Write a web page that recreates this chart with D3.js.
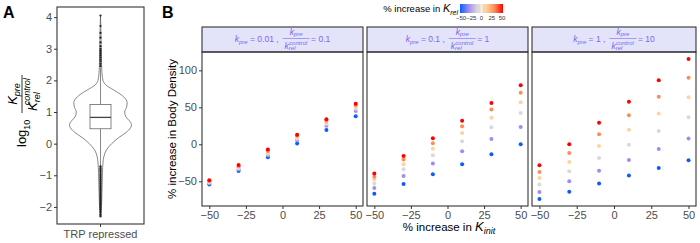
<!DOCTYPE html>
<html lang="en">
<head>
<meta charset="UTF-8">
<title>K_rel / K_init body density</title>
<script src="https://cdn.jsdelivr.net/npm/d3@7"></script>
<style>
    body { margin: 0; background: #fff; }
    * { font-family: 'Liberation Sans', Arial, sans-serif; }
</style>
</head>
<body>
<script>
    // ---- panel A data (log10 Kpre / Krel control) ----
    const violinY = [4.05, 3.5, 3.0, 2.5, 2.2, 2.0, 1.85, 1.7, 1.55, 1.4, 1.3, 1.15, 1.0, 0.85, 0.7, 0.6, 0.5, 0.35, 0.2, 0.0, -0.2, -0.4, -0.6, -0.9, -1.2, -1.6, -2.0, -2.3];
    const violinW = [0, 0.015, 0.025, 0.035, 0.05, 0.08, 0.18, 0.42, 0.66, 0.82, 0.86, 0.84, 0.78, 0.82, 0.95, 1.0, 0.97, 0.82, 0.6, 0.36, 0.19, 0.11, 0.08, 0.065, 0.055, 0.045, 0.03, 0];
    const boxStats = {q1: 0.47, median: 0.83, q3: 1.24, lo: -0.69, hi: 2.4};
    const outliers = [2.45, 2.52, 2.6, 2.66, 2.72, 2.78, 2.84, 2.9, 2.95, 3.0, 3.08, 3.2, 3.35, 3.5, 3.72, 4.05,
        -0.72, -0.78, -0.84, -0.9, -0.96, -1.02, -1.08, -1.14, -1.2, -1.26, -1.32, -1.38, -1.44, -1.5,
        -1.56, -1.62, -1.68, -1.74, -1.8, -1.86, -1.92, -2.0, -2.08, -2.16, -2.25, -2.3];
    const yTicksA = [-2, -1, 0, 1, 2, 3, 4];

    // ---- panel B data ----
    const kInit = [-50, -30, -10, 10, 30, 50];
    const kRel = [-50, -30, -10, 10, 30, 50];
    const relColors = ["#0a5cff", "#9d8df0", "#d9d9d9", "#fdd49e", "#fc8d59", "#ff0000"];
    const facetKpre = ["0.01", "0.1", "1"];
    const facetRatio = ["0.1", "1", "10"];
    // rows: one per kRel (-50 .. 50), columns: one per kInit
    const density1 = [
        [-54.5, -36, -17.5, 1, 19.5, 38],
        [-52.5, -34, -15, 5.5, 25, 45],
        [-51.5, -32.5, -13, 7.5, 27.5, 48],
        [-50.5, -31, -11, 9.5, 30, 50.5],
        [-49.5, -29.5, -9, 11.5, 32, 53],
        [-48.5, -28, -7, 13, 34, 55]
    ];
    const density2 = [
        [-67, -53.6, -40.5, -27, -13.5, 0],
        [-59, -42.8, -26, -9.5, 7.2, 23.4],
        [-53, -33.8, -14.9, 4, 23, 42.3],
        [-47.7, -27, -5.9, 15.3, 36, 57],
        [-43.7, -20.7, 1.4, 24.3, 46.9, 69.8],
        [-39.6, -15.8, 8.1, 32, 55.8, 80]
    ];
    const density3 = [
        [-73.9, -64, -53, -42.3, -32, -21.6],
        [-64.4, -50, -35.6, -21.2, -6.3, 7.7],
        [-54.5, -36.5, -18.5, -0.5, 18, 36.5],
        [-45.5, -23.9, -2.3, 19.8, 41.5, 63.5],
        [-37.4, -11.7, 13.5, 39.2, 64.4, 90],
        [-28.4, 0, 29.3, 57.7, 86.5, 115.3]
    ];
    const densities = [density1, density2, density3];
    const xTicksB = [-50, -25, 0, 25, 50];
    const yTicksB = [-50, 0, 50, 100];
    const legendTicks = [-50, -25, 0, 25, 50];

    const W = 700, H = 243;
    const tickCol = "#4d4d4d", borderCol = "#333";
    const svg = d3.select("body").append("svg").attr("width", W).attr("height", H);

    // ================= Panel A =================
    const boxA = {x0: 57, x1: 144, y0: 7, y1: 224};
    const yA = d3.scaleLinear().domain([-2.54, 4.32]).range([boxA.y1, boxA.y0]);
    const cxA = (boxA.x0 + boxA.x1) / 2;
    const wA = d3.scaleLinear().domain([0, 1]).range([0, 31]);

    const vio = violinY.map((v, i) => [v, violinW[i]]);
    svg.append("path")
        .datum(vio)
        .attr("d", d3.area()
            .curve(d3.curveMonotoneY)
            .y(d => yA(d[0]))
            .x0(d => cxA - wA(d[1]))
            .x1(d => cxA + wA(d[1])))
        .attr("fill", "#fff").attr("stroke", "#555").attr("stroke-width", 0.7);

    // whiskers + box
    svg.append("line").attr("x1", cxA).attr("x2", cxA)
        .attr("y1", yA(boxStats.hi)).attr("y2", yA(boxStats.lo))
        .attr("stroke", "#555").attr("stroke-width", 0.7);
    svg.append("rect").attr("x", cxA - 10.5).attr("width", 21)
        .attr("y", yA(boxStats.q3)).attr("height", yA(boxStats.q1) - yA(boxStats.q3))
        .attr("fill", "#fff").attr("stroke", "#555").attr("stroke-width", 0.7);
    svg.append("line").attr("x1", cxA - 10.5).attr("x2", cxA + 10.5)
        .attr("y1", yA(boxStats.median)).attr("y2", yA(boxStats.median))
        .attr("stroke", "#444").attr("stroke-width", 1.3);
    svg.append("line").attr("x1", cxA).attr("x2", cxA)
        .attr("y1", yA(-0.7)).attr("y2", yA(-2.3))
        .attr("stroke", "#222").attr("stroke-width", 1.6);
    svg.append("g").selectAll("circle").data(outliers).join("circle")
        .attr("cx", cxA).attr("cy", d => yA(d)).attr("r", 1.1).attr("fill", "#222");

    svg.append("rect").attr("x", boxA.x0).attr("y", boxA.y0)
        .attr("width", boxA.x1 - boxA.x0).attr("height", boxA.y1 - boxA.y0)
        .attr("fill", "none").attr("stroke", borderCol).attr("stroke-width", 1.1);

    const axA = svg.append("g").attr("transform", `translate(${boxA.x0},0)`)
        .call(d3.axisLeft(yA).tickValues(yTicksA).tickSize(3).tickPadding(2).tickFormat(d => d < 0 ? "\u2212" + (-d) : d));
    axA.select(".domain").remove();
    axA.selectAll("line").attr("stroke", borderCol);
    axA.selectAll("text").attr("fill", tickCol).style("font-size", "11px");

    svg.append("line").attr("x1", cxA).attr("x2", cxA).attr("y1", boxA.y1).attr("y2", boxA.y1 + 3).attr("stroke", borderCol);
    svg.append("text").attr("x", cxA).attr("y", 238).attr("text-anchor", "middle")
        .attr("fill", tickCol).style("font-size", "11px").text("TRP repressed");

    // y title: log10 (K_pre / K_rel^control), rotated
    const tA = svg.append("g").attr("transform", "translate(21,112) rotate(-90)");
    const logT = tA.append("text").attr("x", -35).attr("y", 5).style("font-size", "13px");
    logT.append("tspan").text("log");
    logT.append("tspan").attr("dy", 4).style("font-size", "9px").text("10");
    const num = tA.append("text").attr("x", 18).attr("y", -4).attr("text-anchor", "middle").style("font-size", "13px");
    num.append("tspan").style("font-style", "italic").text("K");
    num.append("tspan").attr("dy", 3).style("font-size", "9px").style("font-style", "italic").text("pre");
    tA.append("line").attr("x1", -1).attr("x2", 37).attr("y1", 1).attr("y2", 1).attr("stroke", "#000").attr("stroke-width", 0.8);
    const den = tA.append("text").attr("x", 1).attr("y", 16).style("font-size", "13px");
    den.append("tspan").style("font-style", "italic").text("K");
    den.append("tspan").attr("dy", 3).style("font-size", "9px").style("font-style", "italic").text("rel");
    den.append("tspan").attr("dx", -13).attr("dy", -10).style("font-size", "9px").style("font-style", "italic").text("control");

    svg.append("text").attr("x", 3).attr("y", 18).style("font-size", "16px").style("font-weight", "bold").text("A");

    // ================= Panel B =================
    svg.append("text").attr("x", 162).attr("y", 18).style("font-size", "16px").style("font-weight", "bold").text("B");

    const panels = [{x0: 202, x1: 363}, {x0: 367, x1: 528}, {x0: 532, x1: 696}];
    const stripTop = 27, plotTop = 52, plotBot = 206;
    const yB = d3.scaleLinear().domain([-83.4, 124.8]).range([plotBot, plotTop]);
    const colour = d3.scaleLinear().domain(kRel).range(relColors);
    const minus = d => d < 0 ? "\u2212" + (-d) : d;
    const stripCol = "#7b68ee";

    panels.forEach((p, pi) => {
        const xB = d3.scaleLinear().domain([-55, 55]).range([p.x0, p.x1]);
        const g = svg.append("g");

        // strip
        g.append("rect").attr("x", p.x0).attr("y", stripTop).attr("width", p.x1 - p.x0)
            .attr("height", plotTop - stripTop).attr("fill", "#e3e3fa")
            .attr("stroke", borderCol).attr("stroke-width", 1.1);
        const lab = g.append("g");
        const fs = "8.5px", fsSub = "6px";
        const t1 = lab.append("text").attr("y", 41.5).style("font-size", fs).attr("fill", stripCol);
        t1.append("tspan").style("font-style", "italic").text("k");
        t1.append("tspan").attr("dy", 2).style("font-size", fsSub).style("font-style", "italic").text("pre");
        t1.append("tspan").attr("dy", -2).text(` = ${facetKpre[pi]} ,`);
        const w1 = t1.node().getComputedTextLength() + 4;
        const fw = 27;
        const n = lab.append("text").attr("x", w1 + fw / 2).attr("y", 34.5).attr("text-anchor", "middle").style("font-size", fs).attr("fill", stripCol);
        n.append("tspan").style("font-style", "italic").text("k");
        n.append("tspan").attr("dy", 1.5).style("font-size", fsSub).style("font-style", "italic").text("pre");
        lab.append("line").attr("x1", w1).attr("x2", w1 + fw).attr("y1", 38.5).attr("y2", 38.5).attr("stroke", stripCol).attr("stroke-width", 0.6);
        const dk = lab.append("text").attr("x", w1 + 2).attr("y", 48.5).style("font-size", fs).attr("fill", stripCol);
        dk.append("tspan").style("font-style", "italic").text("k");
        dk.append("tspan").attr("dy", 1.5).style("font-size", fsSub).style("font-style", "italic").text("rel");
        lab.append("text").attr("x", w1 + 6.5).attr("y", 44.5).style("font-size", fsSub)
            .style("font-style", "italic").attr("fill", stripCol).text("control");
        const t2 = lab.append("text").attr("x", w1 + fw + 1.5).attr("y", 41.5).style("font-size", fs).attr("fill", stripCol)
            .text(`= ${facetRatio[pi]}`);
        const totalW = w1 + fw + 1.5 + t2.node().getComputedTextLength();
        lab.attr("transform", `translate(${(p.x0 + p.x1) / 2 - totalW / 2},0)`);

        // points
        const pts = [];
        densities[pi].forEach((row, ri) => row.forEach((v, ci) => pts.push({x: kInit[ci], y: v, r: kRel[ri]})));
        g.append("g").selectAll("circle").data(pts).join("circle")
            .attr("cx", d => xB(d.x)).attr("cy", d => yB(d.y)).attr("r", 2)
            .attr("fill", d => colour(d.r));

        g.append("rect").attr("x", p.x0).attr("y", plotTop).attr("width", p.x1 - p.x0)
            .attr("height", plotBot - plotTop).attr("fill", "none")
            .attr("stroke", borderCol).attr("stroke-width", 1.1);

        const ax = g.append("g").attr("transform", `translate(0,${plotBot})`)
            .call(d3.axisBottom(xB).tickValues(xTicksB).tickSize(3).tickPadding(2).tickFormat(minus));
        ax.select(".domain").remove();
        ax.selectAll("line").attr("stroke", borderCol);
        ax.selectAll("text").attr("fill", tickCol).style("font-size", "11px");

        if (pi === 0) {
            const ay = g.append("g").attr("transform", `translate(${p.x0},0)`)
                .call(d3.axisLeft(yB).tickValues(yTicksB).tickSize(3).tickPadding(2).tickFormat(minus));
            ay.select(".domain").remove();
            ay.selectAll("line").attr("stroke", borderCol);
            ay.selectAll("text").attr("fill", tickCol).style("font-size", "11px");
        }
    });

    svg.append("text").attr("transform", `translate(176,${(plotTop + plotBot) / 2}) rotate(-90)`)
        .attr("text-anchor", "middle").style("font-size", "11.5px").text("% increase in Body Density");

    const xt = svg.append("text").attr("x", 449).attr("y", 231).attr("text-anchor", "middle").style("font-size", "11.5px");
    xt.append("tspan").text("% increase in ");
    xt.append("tspan").style("font-style", "italic").style("font-size", "13px").text("K");
    xt.append("tspan").attr("dy", 3).style("font-style", "italic").style("font-size", "9px").text("init");

    // ---- colour bar legend ----
    const lg = {x0: 460, x1: 503, y0: 4, y1: 13};
    const grad = svg.append("defs").append("linearGradient").attr("id", "relGrad");
    grad.selectAll("stop").data(d3.range(0, 1.0001, 0.05)).join("stop")
        .attr("offset", d => d)
        .attr("stop-color", d => {
            const v = -50 + d * 100;
            if (Math.abs(v) < 4) return "#f4f0ec";
            return colour(v);
        });
    svg.append("rect").attr("x", lg.x0).attr("y", lg.y0).attr("width", lg.x1 - lg.x0)
        .attr("height", lg.y1 - lg.y0).attr("fill", "url(#relGrad)");
    const xl = d3.scaleLinear().domain([-50, 50]).range([lg.x0 + 1, lg.x1 - 1]);
    svg.append("g").selectAll("text").data(legendTicks).join("text")
        .attr("x", d => xl(d)).attr("y", 19.5).attr("text-anchor", "middle")
        .attr("fill", "#333").style("font-size", "6px").text(minus);
    const lt = svg.append("text").attr("x", lg.x0 - 2).attr("y", 12).attr("text-anchor", "end").style("font-size", "9.5px");
    lt.append("tspan").text("% increase in ");
    lt.append("tspan").style("font-style", "italic").style("font-size", "11px").text("K");
    lt.append("tspan").attr("dy", 3).style("font-style", "italic").style("font-size", "7px").text("rel");
</script>
</body>
</html>
